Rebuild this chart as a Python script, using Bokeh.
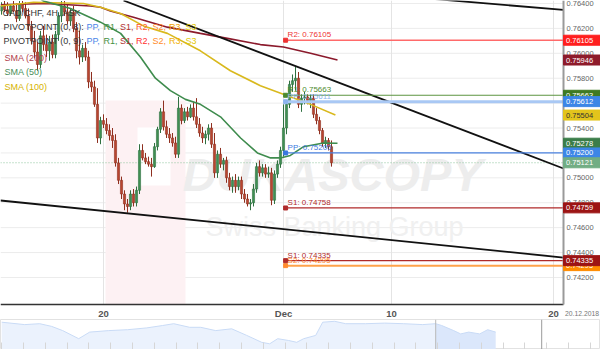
from bokeh.plotting import figure
from bokeh.models import (Range1d, FixedTicker, NumeralTickFormatter, Span,
                          ColumnDataSource, SingleIntervalTicker, CustomJSTickFormatter)
from bokeh.layouts import column
from bokeh.embed import file_html
from bokeh.resources import INLINE
from bokeh.core.properties import value

FONT = "Liberation Sans"

# ---------------- data (CAD/CHF, 4H, ASK) ----------------
first_open = 0.7634
high = [
    .7641, .7642, .7641, .7639, .7642, .7640, .7642, .7642, .7641, .7636,
    .7626, .7618, .7609, .7618, .7622, .7615, .7614, .7615, .7618, .7633,
    .7642, .7642, .7639, .7636, .7638, .7625, .7618, .7607, .7609, .7602,
    .7585, .7578, .7572, .7549, .7551, .7548, .7543, .7540, .7535, .7516,
    .7501, .7490, .7483, .7490, .7491, .7493, .7527, .7527, .7520, .7517,
    .7516, .7528, .7541, .7556, .7562, .7546, .7540, .7536, .7533, .7565,
    .7559, .7556, .7557, .7559, .7561, .7564, .7548, .7541, .7538, .7543,
    .7544, .7536, .7522, .7524, .7516, .7517, .7504, .7501, .7503, .7501,
    .7501, .7491, .7487, .7483, .7495, .7512, .7514, .7511, .7511, .7509,
    .7508, .7506, .7514, .7525, .7559, .7562, .7578, .7583, .7589, .7585,
    .7567, .7569, .7567, .7567, .7567, .7556, .7549, .7540, .7533, .7532,
    .7530]
low = [
    .7631, .7633, .7630, .7630, .7633, .7625, .7626, .7633, .7628, .7618,
    .7607, .7596, .7586, .7588, .7602, .7597, .7594, .7596, .7596, .7610,
    .7625, .7630, .7623, .7622, .7617, .7596, .7591, .7593, .7594, .7572,
    .7569, .7557, .7528, .7527, .7540, .7535, .7530, .7524, .7509, .7495,
    .7483, .7474, .7472, .7474, .7477, .7477, .7487, .7514, .7511, .7509,
    .7501, .7508, .7522, .7536, .7538, .7532, .7528, .7525, .7516, .7516,
    .7543, .7544, .7546, .7548, .7546, .7540, .7533, .7528, .7527, .7530,
    .7524, .7500, .7500, .7508, .7506, .7496, .7490, .7488, .7488, .7490,
    .7483, .7480, .7477, .7474, .7477, .7488, .7501, .7501, .7500, .7500,
    .7478, .7479, .7500, .7508, .7517, .7535, .7556, .7569, .7570, .7556,
    .7553, .7559, .7559, .7556, .7548, .7543, .7535, .7525, .7524, .7522,
    .7509]
close = [
    .7638, .7635, .7632, .7638, .7634, .7628, .7639, .7636, .7630, .7622,
    .7610, .7601, .7591, .7614, .7607, .7602, .7609, .7599, .7615, .7630,
    .7638, .7633, .7626, .7633, .7620, .7602, .7597, .7604, .7597, .7577,
    .7573, .7559, .7532, .7546, .7543, .7538, .7534, .7530, .7512, .7498,
    .7487, .7479, .7477, .7487, .7480, .7490, .7522, .7516, .7513, .7511,
    .7509, .7525, .7539, .7553, .7541, .7535, .7532, .7528, .7519, .7556,
    .7546, .7553, .7549, .7556, .7549, .7543, .7536, .7532, .7535, .7540,
    .7527, .7504, .7519, .7511, .7514, .7500, .7493, .7498, .7493, .7498,
    .7487, .7483, .7479, .7480, .7491, .7509, .7504, .7508, .7503, .7504,
    .7482, .7503, .7511, .7522, .7540, .7559, .7575, .7578, .7580, .7559,
    .7564, .7565, .7562, .7564, .7551, .7546, .7538, .7528, .7530, .7525,
    .75121]

# moving averages (bar index, price)
sma200_x = [-0.3, 14.7, 29.7, 33, 36.3, 44, 55.3, 66.3, 75.3, 86.3, 94, 103, 112]
sma200_y = [0.7639, 0.7640, 0.7638, 0.7637, 0.7634, 0.7629, 0.7621, 0.7616,
            0.7612, 0.7607, 0.7605, 0.7600, 0.75946]
sma100_x = [-0.3, 10.7, 27.3, 33, 39.7, 47.3, 55.3, 66.3, 76.3, 86.3, 95.3, 103, 111.3]
sma100_y = [0.7638, 0.7641, 0.7640, 0.7637, 0.7632, 0.7622, 0.7616, 0.7602,
            0.7586, 0.7574, 0.7566, 0.7559, 0.75504]
sma50_x = [9.7, 14, 23, 33, 39.7, 46.3, 51.3, 56.3, 61.3, 66.3, 73, 79.7, 85.3,
           89.7, 93, 96.3, 100.7, 107.3, 112]
sma50_y = [0.7649, 0.7642, 0.7636, 0.7625, 0.7616, 0.7597, 0.7580, 0.7570, 0.7563,
           0.7559, 0.7549, 0.7532, 0.7520, 0.7516, 0.7516, 0.7518, 0.7525, 0.7528,
           0.75278]

# trend lines (bar index, price)
trend_upper_x = [40.67, 187.33]
trend_upper_y = [0.76424, 0.75075]
trend_top_x = [130.0, 187.33]
trend_top_y = [0.76465, 0.76348]
trend_lower_x = [-0.33, 187.33]
trend_lower_y = [0.74818, 0.74360]

# pivot points
pivot_start = 94.7
pivot_names = ["R2", "R1", "PP", "PP", "S1", "S2", "S1"]
pivot_levels = [0.76105, 0.75663, 0.75611, 0.75200, 0.74758, 0.74295, 0.74335]
pivot_colors = ["#ff6a6a", "#5d9440", "#a9c8f4", "#4a82e0", "#b02a2a", "#ffa24a", "#b02a2a"]
pivot_text_colors = ["#ee3333", "#4d8a2e", "#8db4ee", "#3b78e0", "#b02a2a", "#ff8c30", "#b02a2a"]
pivot_widths = [1.5, 1.2, 3, 1.2, 1.2, 2, 1.2]

current_price = 0.75121

# right-hand value boxes
box_texts = ["0.76105", "0.75946", "0.75663", "0.75612", "0.75504", "0.75278",
             "0.75200", "0.75121", "0.74759", "0.74295", "0.74335"]
box_levels = [0.76105, 0.75946, 0.75663, 0.75612, 0.75504, 0.75278,
              0.75200, 0.75121, 0.74759, 0.74295, 0.74335]
box_bg = ["#ff1f1f", "#8e1b2b", "#3f7a22", "#3d86e6", "#e3c41c", "#3b7d49",
          "#3d86e6", "#72ad84", "#9c1414", "#ff8c00", "#9c1414"]
box_fg = ["white", "white", "white", "white", "#333333", "white",
          "white", "white", "white", "white", "white"]

y_ticks = [0.742, 0.744, 0.746, 0.748, 0.750, 0.752, 0.754, 0.756, 0.758,
           0.760, 0.762, 0.764]
x_tick_idx = [34, 94, 130, 184]
x_tick_labels = ["20", "Dec", "10", "20"]
date_label = "20.12.2018"

# navigator (x position, relative level)
nav_x = [0, 23, 38, 50, 61, 77, 88, 107, 126, 145, 161, 172, 188, 199, 214, 230,
         245, 260, 268, 276, 287, 295, 302, 314, 321, 333, 344, 364, 383, 402,
         421, 434, 440, 452, 459, 467, 478, 486, 494]
nav_v = [0.91, 0.83, 0.86, 0.77, 0.63, 0.36, 0.58, 0.63, 0.66, 0.72, 0.80, 0.86,
         0.74, 0.74, 0.63, 0.69, 0.47, 0.24, 0.19, 0.36, 0.30, 0.24, 0.36, 0.47,
         0.91, 0.94, 0.86, 0.86, 0.88, 0.86, 0.83, 0.86, 0.80, 0.63, 0.52, 0.58,
         0.52, 0.66, 0.58]

# ---------------- main chart ----------------
W, H = 600, 319            # canvas of the main chart
PX_X = 3.0                 # pixels per bar
PX_Y = 0.0000803           # price per pixel
X0 = -1 / 3
X_END = X0 + W / PX_X
X_AX = X0 + 563 / PX_X     # where the price axis sits
Y1 = 0.76424
Y_END = Y1 - H * PX_Y
Y_AX = Y1 - 304 * PX_Y     # where the time axis sits

p = figure(width=W, height=H, x_range=Range1d(X0, X_END), y_range=Range1d(Y_END, Y1),
           y_axis_location="right", output_backend="svg", toolbar_location=None,
           min_border_left=0, min_border_top=0, min_border_right=0,
           min_border_bottom=0, background_fill_color="white",
           border_fill_color="white")
p.outline_line_color = None
p.xgrid.visible = False
p.ygrid.visible = False

p.xaxis.fixed_location = Y_AX
p.xaxis.bounds = (X0, X_AX)
p.xaxis.ticker = FixedTicker(ticks=x_tick_idx)
p.xaxis.major_label_overrides = dict(zip(x_tick_idx, x_tick_labels))
p.xaxis.major_label_text_font = FONT
p.xaxis.major_label_text_font_size = "9.5px"
p.xaxis.major_label_text_font_style = "bold"
p.xaxis.major_label_text_color = "#555555"
p.xaxis.major_label_standoff = 3
p.xaxis.major_tick_out = 0
p.xaxis.major_tick_in = 0
p.xaxis.minor_tick_out = 0
p.xaxis.minor_tick_in = 0
p.xaxis.axis_line_color = "#333333"
p.xaxis.axis_line_width = 1.5

p.yaxis.fixed_location = X_AX
p.yaxis.bounds = (Y_AX, Y1)
p.yaxis.ticker = FixedTicker(ticks=y_ticks)
p.yaxis.formatter = NumeralTickFormatter(format="0.00000")
p.yaxis.major_label_text_font = FONT
p.yaxis.major_label_text_font_size = "7.5px"
p.yaxis.major_label_text_color = "#666666"
p.yaxis.major_label_standoff = 3
p.yaxis.major_tick_out = 0
p.yaxis.major_tick_in = 0
p.yaxis.minor_tick_out = 0
p.yaxis.minor_tick_in = 0
p.yaxis.axis_line_color = "#9a9a9a"
p.yaxis.axis_line_width = 2

# grid lines at the tick values, inside the plotting area only
p.segment(x0=[X0] * len(y_ticks), x1=[X_AX] * len(y_ticks), y0=y_ticks, y1=y_ticks,
          line_color="#ececec", line_width=1, level="underlay")
p.segment(x0=x_tick_idx, x1=x_tick_idx, y0=[Y_AX] * len(x_tick_idx),
          y1=[Y1] * len(x_tick_idx), line_color="#e4e4e4", line_width=1,
          level="underlay")

# watermark / logo
p.quad(left=[34.67], right=[61.33], top=[0.75621], bottom=[Y_AX],
       fill_color="#fdf1f3", line_color=None)
p.quad(left=[45.33], right=[56.33], top=[0.75404], bottom=[0.74938],
       fill_color="white", line_color=None)
p.text(x=[X0], y=[Y1], text=["DUKASCOPY"], text_font=value(FONT),
       text_font_size="47px", text_font_style="bold italic", text_color="#ededed",
       text_baseline="alphabetic", x_offset=182, y_offset=174)
p.text(x=[X0], y=[Y1], text=["Swiss Banking Group"], text_font=value(FONT),
       text_font_size="27px", text_color="#f0f0f0",
       text_baseline="alphabetic", x_offset=205, y_offset=226)

# current price line
p.line(x=[X0, X_AX], y=[current_price, current_price], line_color="#8cc49c",
       line_dash="1 2", line_width=1.2)

# candles
opens = [first_open] + close[:-1]
GREEN, GREEN_EDGE = "#3f8f52", "#2f7040"
RED, RED_EDGE = "#b8452f", "#8e2f1f"
is_up = [c >= o for o, c in zip(opens, close)]
src = ColumnDataSource(dict(
    x=list(range(len(close))), high=high, low=low,
    top=[max(o, c) for o, c in zip(opens, close)],
    bottom=[min(o, c) for o, c in zip(opens, close)],
    fill=[GREEN if u else RED for u in is_up],
    edge=[GREEN_EDGE if u else RED_EDGE for u in is_up],
))
p.segment(x0="x", y0="low", x1="x", y1="high", line_color="edge", line_width=1,
          source=src)
p.vbar(x="x", width=0.72, top="top", bottom="bottom", fill_color="fill",
       line_color="edge", line_width=0.6, source=src)

# moving averages
p.line(sma200_x, sma200_y, line_color="#8b1a2c", line_width=1.6)
p.line(sma100_x, sma100_y, line_color="#d9b91e", line_width=1.6)
p.line(sma50_x, sma50_y, line_color="#3f8c4e", line_width=1.6)

# trend lines
p.line(trend_upper_x, trend_upper_y, line_color="#111111", line_width=1.8)
p.line(trend_top_x, trend_top_y, line_color="#111111", line_width=1.8)
p.line(trend_lower_x, trend_lower_y, line_color="#111111", line_width=1.8)

# pivot lines
for lvl, col, lw in zip(pivot_levels, pivot_colors, pivot_widths):
    p.line(x=[pivot_start, X_AX], y=[lvl, lvl], line_color=col, line_width=lw)
p.scatter(x=[pivot_start] * len(pivot_levels), y=pivot_levels, marker="square",
          size=4, color=pivot_text_colors)
for name, lvl, col in zip(pivot_names, pivot_levels, pivot_text_colors):
    p.text(x=[pivot_start], y=[lvl], text=["%s: %.5f" % (name, lvl)],
           text_font=value(FONT), text_font_size="8px", text_color=col,
           text_baseline="bottom", x_offset=2, y_offset=-1)

# legend text (top-left)
legend_rows = [
    (12, [("CAD/CHF, 4H, ASK", "#333333", 2)]),
    (26, [("PIVOTPOINT (0, 8):", "#333333", 3), ("PP,", "#4a86e8", 86),
          ("R1,", "#3f8f3f", 103), ("S1,", "#b03030", 119.5), ("R2,", "#ff5a2a", 135.5),
          ("S2,", "#ff8c2a", 152), ("R3,", "#f2a600", 168.5), ("S3", "#e3c800", 185)]),
    (40, [("PIVOTPOINT (0, 9):", "#333333", 3), ("PP,", "#4a86e8", 86),
          ("R1,", "#3f8f3f", 103), ("S1,", "#b03030", 119.5), ("R2,", "#ff3030", 135.5),
          ("S2,", "#ff8c2a", 152), ("R3,", "#f2b000", 168.5), ("S3", "#e3c800", 185)]),
    (57, [("SMA (200)", "#b0404c", 4)]),
    (71, [("SMA (50)", "#4a8f5a", 4)]),
    (86, [("SMA (100)", "#d6b300", 4)]),
]
for ypx, segs in legend_rows:
    for txt, col, xpx in segs:
        p.text(x=[X0], y=[Y1], text=[txt], text_font=value(FONT),
               text_font_size="9px", text_color=col, text_baseline="middle",
               x_offset=xpx, y_offset=ypx)

# value boxes on the price axis (drawn above the axis labels)
BOX_W = 37
for t, lvl, bg, fg in zip(box_texts, box_levels, box_bg, box_fg):
    p.rect(x=[X_AX + BOX_W / 2 / PX_X], y=[lvl], width=BOX_W, height=10,
           width_units="screen", height_units="screen", fill_color=bg,
           line_color=bg, level="overlay")
    p.text(x=[X_AX], y=[lvl], text=[t], text_font=value(FONT),
           text_font_size="7.5px", text_color=fg, text_baseline="middle",
           x_offset=2.5, level="overlay")

p.text(x=[X_AX], y=[Y_AX], text=[date_label], text_font=value(FONT),
       text_font_size="6.8px", text_color="#777777", text_baseline="middle",
       x_offset=1.5, y_offset=9, level="overlay")

# ---------------- navigator ----------------
nav = figure(width=600, height=30, x_range=Range1d(-1.2, 598.8), y_range=Range1d(0, 1),
             output_backend="svg", toolbar_location=None, min_border_left=0,
             min_border_right=0, min_border_top=0, min_border_bottom=0,
             background_fill_color="white", border_fill_color="white")
nav.outline_line_color = "#e2e2e2"
nav.yaxis.visible = False
nav.xgrid.grid_line_color = None
nav.ygrid.grid_line_color = None
nav.xaxis.ticker = SingleIntervalTicker(interval=21.8)
nav.xaxis.formatter = CustomJSTickFormatter(code="return ''")
nav.xaxis.major_tick_in = 7
nav.xaxis.major_tick_out = 0
nav.xaxis.minor_tick_in = 0
nav.xaxis.minor_tick_out = 0
nav.xaxis.major_tick_line_color = "#d6d6d6"
nav.xaxis.major_label_standoff = 0
nav.xaxis.axis_line_color = None
nav.varea(x=nav_x[:32], y1=0, y2=nav_v[:32], fill_color="#ebf2fd")
nav.varea(x=nav_x[31:], y1=0, y2=nav_v[31:], fill_color="#dbe7fb")
nav.line(nav_x, nav_v, line_color="#c9dbf6", line_width=1)
nav.add_layout(Span(location=434, dimension="height", line_color="#b8b8b8", line_width=1))
nav.add_layout(Span(location=540, dimension="height", line_color="#9a9a9a", line_width=1))

layout = column(p, nav, spacing=0)
open("out.html", "w").write(file_html(layout, INLINE))
